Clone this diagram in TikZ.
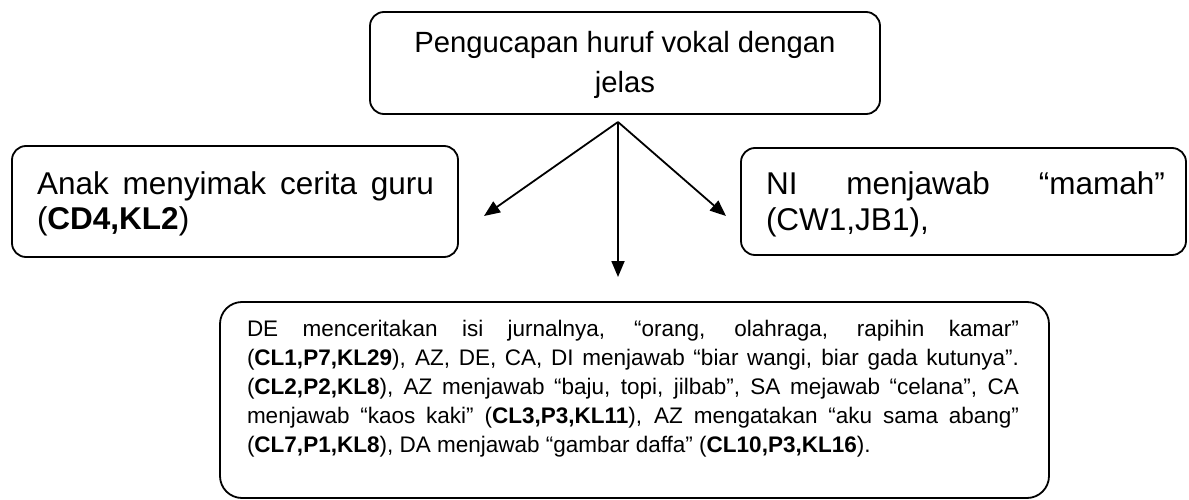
\documentclass[tikz,border=0pt]{standalone}
\usepackage{fontspec}
\setmainfont{Liberation Sans}
\usetikzlibrary{arrows.meta}
\newcommand{\fsz}[1]{\fontsize{#1}{#1}\selectfont}
\begin{document}
\begin{tikzpicture}[x=1pt,y=-1pt,
  box/.style={draw,line width=1.8pt,rounded corners=14pt,inner sep=0pt,outer sep=0pt},
  conn/.style={line width=1.8pt,-{Triangle[length=16pt,width=13pt]}},
  txt/.style={inner sep=0pt,outer sep=0pt,anchor=base west},
  ctxt/.style={inner sep=0pt,outer sep=0pt,anchor=base}]
\useasboundingbox (0,0) rectangle (1189,500);

% boxes
\node[box,minimum width=510pt,minimum height=102pt] (top) at (625,63) {};
\node[box,minimum width=446pt,minimum height=111pt] (left) at (235,201.5) {};
\node[box,minimum width=445pt,minimum height=107pt] (right) at (963.5,201.5) {};
\node[box,rounded corners=22pt,minimum width=829pt,minimum height=196pt] (bottom) at (634.5,400) {};

% top text
\node[ctxt,font=\fsz{29.25}] (t1) at (625,53) {Pengucapan huruf vokal dengan};
\node[ctxt,font=\fsz{29.25}] (t2) at (625,93) {jelas};

% left text
\node[txt,font=\fsz{31.5}] (l1) at (37,194) {\makebox[397pt][s]{Anak menyimak cerita guru}};
\node[txt,font=\fsz{31.5}] (l2) at (37,229) {(\textbf{CD4,KL2})};

% right text
\node[txt,font=\fsz{31.5}] (r1) at (766,194) {\makebox[399pt][s]{NI menjawab “mamah”}};
\node[txt,font=\fsz{31.5}] (r2) at (766,230) {(CW1,JB1),};

% bottom text
\node[txt,font=\fsz{22.5}] (b1) at (247,336) {\makebox[772pt][s]{DE menceritakan isi jurnalnya, “orang, olahraga, rapihin kamar”}};
\node[txt,font=\fsz{22.5}] (b2) at (247,365) {\makebox[772pt][s]{(\textbf{CL1,P7,KL29}), AZ, DE, CA, DI menjawab “biar wangi, biar gada kutunya”.}};
\node[txt,font=\fsz{22.5}] (b3) at (247,394) {\makebox[772pt][s]{(\textbf{CL2,P2,KL8}), AZ menjawab “baju, topi, jilbab”, SA mejawab “celana”, CA}};
\node[txt,font=\fsz{22.5}] (b4) at (247,423) {\makebox[772pt][s]{menjawab “kaos kaki” (\textbf{CL3,P3,KL11}), AZ mengatakan “aku sama abang”}};
\node[txt,font=\fsz{22.5}] (b5) at (247,452) {(\textbf{CL7,P1,KL8}), DA menjawab “gambar daffa” (\textbf{CL10,P3,KL16}).};

% connectors
\coordinate (apex) at (618,122);
\coordinate (lt) at (484,216);
\coordinate (rt) at (726,216);
\coordinate (dn) at (618,277);
\draw[conn] (apex) -- (lt);
\draw[conn] (apex) -- (rt);
\draw[conn] (apex) -- (dn);
\end{tikzpicture}
\end{document}
